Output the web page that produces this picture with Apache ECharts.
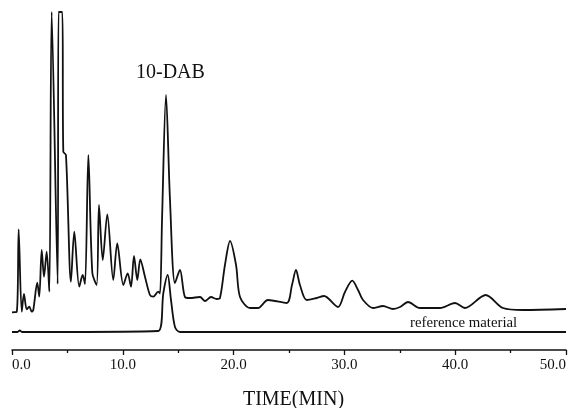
<!DOCTYPE html>
<html>
<head>
<meta charset="utf-8">
<script src="https://cdn.jsdelivr.net/npm/echarts@6/dist/echarts.min.js"></script>
<style>
  html, body { margin: 0; padding: 0; background: #fff; }
  #chart { width: 570px; height: 408px; }
</style>
</head>
<body>
<div id="chart"></div>
<script>
// sample trace (retention time in min, detector signal in arbitrary units)
const sampleTime = [
  0.0, 0.42, 0.60, 0.88, 1.08, 1.33, 1.56, 1.78, 1.92, 2.28,
  2.46, 2.68, 2.89, 3.13, 3.37, 3.58, 4.12, 4.20, 4.54, 4.63,
  4.87, 5.32, 5.62, 6.07, 6.38, 6.59, 6.89, 7.25, 7.64, 7.85,
  8.19, 8.60, 9.14, 9.50, 10.05, 10.44, 10.74, 11.01, 11.31, 11.58,
  12.00, 12.45, 12.75, 13.20, 13.36, 13.54, 13.90, 14.26, 14.71, 15.16,
  15.61, 16.06, 16.97, 17.42, 17.96, 18.47, 18.77, 19.22, 19.68, 20.22,
  20.58, 21.48, 22.20, 23.10, 24.79, 25.27, 25.63, 25.99, 26.60, 27.50,
  28.16, 29.42, 30.05, 30.71, 31.23, 31.68, 32.58, 33.48, 34.39, 35.02,
  35.74, 36.82, 38.63, 39.98, 40.88, 42.75, 44.31, 46.12, 50.0
]
const sampleSignal = [
  37.7, 38, 120.7, 38.3, 56, 40.7, 43.3, 38.3, 40, 67.3,
  53.3, 100, 73.3, 98.3, 58.3, 338, 66, 338, 338, 198.3,
  195, 68.3, 118.3, 63.3, 75, 66, 195, 77, 65, 145,
  90, 135.7, 70, 106.7, 65, 76.7, 63.3, 94, 70, 90.7,
  73.3, 55, 53.3, 58.3, 56.7, 130, 255, 150, 67, 80,
  53, 52, 53, 49, 53, 51, 52, 85, 109, 85,
  53, 42, 42, 50, 47, 65, 80, 65, 50, 52,
  54, 43, 58, 69.3, 60, 50, 42, 44, 41, 43,
  48, 42, 42, 47, 42, 55, 42, 40, 41
]

// reference material trace
const refTime = [0.0, 0.5, 0.7, 0.9, 13.20, 13.66, 14.05, 14.35, 14.71, 15.16, 50.0]
const refSignal = [18, 18, 19.5, 18, 19, 57, 75, 50, 23, 18, 18]

const xTicks = [0, 10, 20, 30, 40, 50]

const chart = echarts.init(document.getElementById('chart'))

const serif = '"Liberation Serif", "Times New Roman", serif'

const lineStyle = { color: '#111', width: 1.8 }

const option = {
  animation: false,
  grid: { left: 12, right: 4, top: 12, bottom: 58, outerBoundsMode: 'none' },
  xAxis: {
    type: 'value',
    min: xTicks[0],
    max: xTicks[xTicks.length - 1],
    interval: 10,
    name: 'TIME(MIN)',
    nameLocation: 'middle',
    nameGap: 40,
    nameTextStyle: {
      fontFamily: serif,
      fontSize: 20,
      color: '#111',
      padding: [0, 0, 0, 9],
    },
    axisLine: { lineStyle: { color: '#111', width: 1.5 } },
    axisTick: { length: 5, lineStyle: { color: '#111', width: 1.3 } },
    minorTick: { show: true, splitNumber: 2, length: 3, lineStyle: { color: '#111', width: 1.3 } },
    splitLine: { show: false },
    axisLabel: {
      margin: 8,
      fontFamily: serif,
      fontSize: 15,
      color: '#111',
      alignMinLabel: 'left',
      alignMaxLabel: 'right',
      formatter: (v) => v.toFixed(1),
    },
  },
  yAxis: {
    type: 'value',
    min: 0,
    max: 338,
    show: false,
  },
  graphic: [
    {
      type: 'text',
      left: 136,
      top: 63,
      style: { text: '10-DAB', fontFamily: serif, fontSize: 20, fill: '#111' },
    },
    {
      type: 'text',
      left: 410,
      top: 316,
      style: { text: 'reference material', fontFamily: serif, fontSize: 14.8, fill: '#111' },
    },
  ],
  series: [
    {
      name: 'sample',
      type: 'line',
      showSymbol: false,
      clip: false,
      smooth: 0.3,
      lineStyle,
      data: sampleTime.map((t, i) => [t, sampleSignal[i]]),
    },
    {
      name: 'reference material',
      type: 'line',
      showSymbol: false,
      clip: false,
      smooth: 0.3,
      lineStyle,
      data: refTime.map((t, i) => [t, refSignal[i]]),
    },
  ],
}

chart.setOption(option)
</script>
</body>
</html>
